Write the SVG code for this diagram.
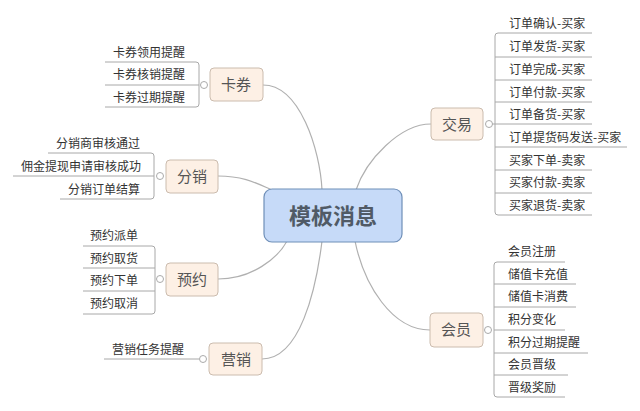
<svg xmlns="http://www.w3.org/2000/svg" width="640" height="411" viewBox="0 0 640 411">
<style>
.lf{font-family:"Noto Sans CJK SC","Liberation Sans",sans-serif;font-size:12px;fill:#333}
.cat{font-family:"Noto Sans CJK SC","Liberation Sans",sans-serif;font-size:15px;fill:#555;text-anchor:middle}
.box{fill:#fdf0e5;stroke:#cbbcae;stroke-width:1}
.ln{fill:none;stroke:#a8a8a8;stroke-width:1}
.cv{fill:none;stroke:#b0b0b0;stroke-width:1.2}
.ci{fill:#fff;stroke:#aaa;stroke-width:1}
</style>
<rect width="640" height="411" fill="#fff"/>
<g id="connectors">
<path class="cv" d="M263,85 C300,85 320,150 322,190"/>
<path class="cv" d="M218,176 C245,176 258,184 272,190"/>
<path class="cv" d="M218,279 C252,279 278,258 287,241"/>
<path class="cv" d="M262,359 C300,359 316,290 322,241"/>
<path class="cv" d="M431,124 C400,124 366,160 356,190"/>
<path class="cv" d="M430,330 C392,330 364,285 355,241"/>
</g>
<g id="center">
<rect x="264" y="189" width="138" height="53" rx="8" fill="#c6daf8" stroke="#6f8fb8" stroke-width="1.2"/>
<text x="333" y="224" font-family="'Noto Sans CJK SC',sans-serif" font-size="22" font-weight="bold" fill="#505a66" text-anchor="middle">模板消息</text>
</g>
<g id="kaquan">
<path class="ln" d="M105,62 H196 Q199,62 199,65 V104 Q199,107 196,107 H105 M105,85 H199"/>
<circle class="ci" cx="204" cy="85" r="3.5"/>
<rect class="box" x="210" y="68" width="53" height="33" rx="4"/>
<text class="cat" x="236" y="90">卡券</text>
<text class="lf" x="113" y="57">卡券领用提醒</text>
<text class="lf" x="113" y="79">卡券核销提醒</text>
<text class="lf" x="113" y="102">卡券过期提醒</text>
</g>
<g id="fenxiao">
<path class="ln" d="M48,153 H151 Q154,153 154,156 V196 Q154,199 151,199 H60 M13,176 H154"/>
<circle class="ci" cx="160" cy="176" r="3.5"/>
<rect class="box" x="166" y="160" width="52" height="33" rx="4"/>
<text class="cat" x="192" y="182">分销</text>
<text class="lf" x="56" y="148">分销商审核通过</text>
<text class="lf" x="21" y="171">佣金提现申请审核成功</text>
<text class="lf" x="68" y="194">分销订单结算</text>
</g>
<g id="yuyue">
<path class="ln" d="M83,246 H152 Q155,246 155,249 V311 Q155,314 152,314 H83 M83,268 H155 M83,291 H155 M155,279 H155"/>
<circle class="ci" cx="160" cy="279" r="3.5"/>
<rect class="box" x="166" y="263" width="52" height="33" rx="4"/>
<text class="cat" x="192" y="285">预约</text>
<text class="lf" x="90" y="240">预约派单</text>
<text class="lf" x="90" y="263">预约取货</text>
<text class="lf" x="90" y="285">预约下单</text>
<text class="lf" x="90" y="308">预约取消</text>
</g>
<g id="yingxiao">
<path class="ln" d="M104,359 H199"/>
<circle class="ci" cx="203" cy="359" r="3.5"/>
<rect class="box" x="209" y="343" width="53" height="32" rx="4"/>
<text class="cat" x="236" y="365">营销</text>
<text class="lf" x="112" y="354">营销任务提醒</text>
</g>
<g id="jiaoyi">
<path class="ln" d="M592,33 H498 Q495,33 495,36 V212 Q495,215 498,215 H592 M495,57 H592 M495,80 H592 M495,102 H592 M495,124 H592 M495,147 H627 M495,170 H592 M495,193 H592 M489,124 H495"/>
<circle class="ci" cx="489" cy="124" r="3.5"/>
<rect class="box" x="431" y="108" width="52" height="32" rx="4"/>
<text class="cat" x="457" y="130">交易</text>
<text class="lf" x="509" y="28">订单确认-买家</text>
<text class="lf" x="509" y="51">订单发货-买家</text>
<text class="lf" x="509" y="74">订单完成-买家</text>
<text class="lf" x="509" y="97">订单付款-买家</text>
<text class="lf" x="509" y="119">订单备货-买家</text>
<text class="lf" x="509" y="142">订单提货码发送-买家</text>
<text class="lf" x="509" y="165">买家下单-卖家</text>
<text class="lf" x="509" y="187">买家付款-卖家</text>
<text class="lf" x="509" y="210">买家退货-卖家</text>
</g>
<g id="huiyuan">
<path class="ln" d="M565,262 H497 Q494,262 494,265 V394 Q494,397 497,397 H565 M494,284 H576 M494,307 H576 M494,330 H565 M494,353 H588 M494,375 H568"/>
<circle class="ci" cx="488" cy="330" r="3.5"/>
<rect class="box" x="430" y="313" width="53" height="34" rx="4"/>
<text class="cat" x="456" y="335">会员</text>
<text class="lf" x="508" y="256">会员注册</text>
<text class="lf" x="508" y="279">储值卡充值</text>
<text class="lf" x="508" y="301">储值卡消费</text>
<text class="lf" x="508" y="324">积分变化</text>
<text class="lf" x="508" y="347">积分过期提醒</text>
<text class="lf" x="508" y="369">会员晋级</text>
<text class="lf" x="508" y="392">晋级奖励</text>
</g>
</svg>
